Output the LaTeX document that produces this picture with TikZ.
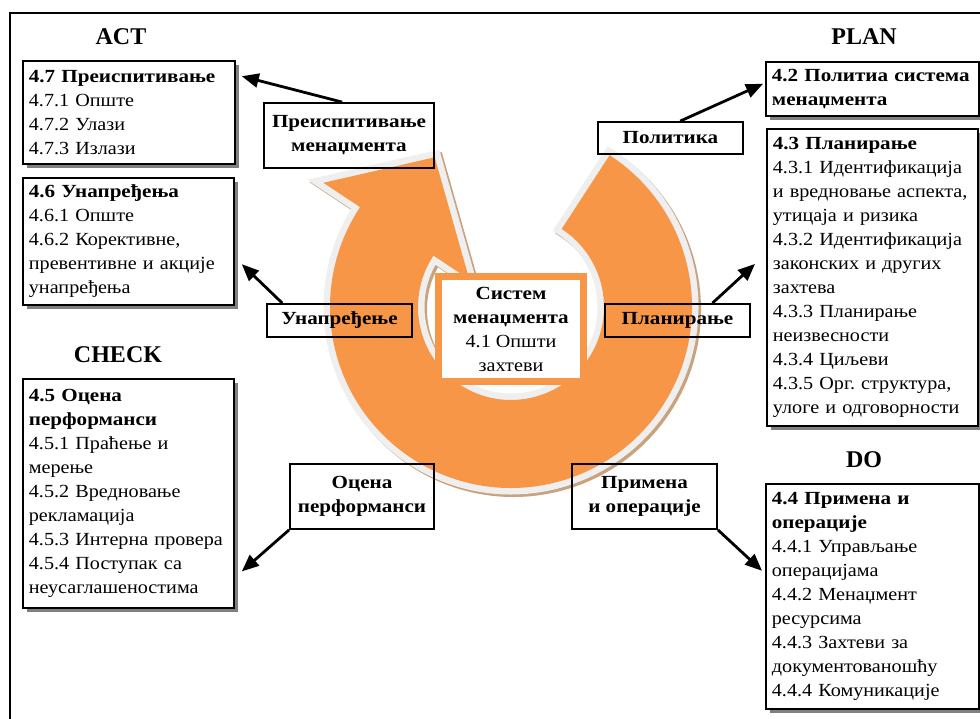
\documentclass[tikz,border=0pt]{standalone}
\usepackage{fontspec}
\setmainfont{Liberation Serif}[FakeStretch=1.09, BoldFeatures={FakeStretch=1.14}]
\newfontfamily\titlefont{Liberation Serif}
\usetikzlibrary{arrows.meta,calc,shadows}

\definecolor{ringorange}{HTML}{F79646}
\definecolor{ringrim}{HTML}{EFEFEF}
\definecolor{ringshade}{HTML}{C9A27E}
\definecolor{boxshade}{HTML}{808080}

% circular arrow: tail cut at 57 deg, runs clockwise, head at 146.5 deg
\newcommand\ringoutline[1]{%
  \path[#1] (57:181) arc[start angle=57,end angle=-213.5,radius=181]
    -- (146.5:225) -- (117:168) -- (146.5:50) -- (146.5:93)
    arc[start angle=146.5,end angle=417,radius=93] -- cycle;}

\begin{document}
\begin{tikzpicture}[x=1pt,y=1pt,
  bodytext/.style={font=\fontsize{18.5}{24}\selectfont},
  secbox/.style={draw, line width=1.8pt, fill=white, anchor=north west,
    inner xsep=6pt, inner ysep=0pt, align=left, bodytext,
    drop shadow={shadow xshift=4.5pt, shadow yshift=-4.5pt, fill=boxshade, opacity=1}},
  tagbox/.style={draw, line width=1.8pt, inner sep=0pt, align=center,
    font=\fontsize{18.5}{24}\selectfont\bfseries},
  phase/.style={font=\titlefont\fontsize{24}{28}\selectfont\bfseries},
  link/.style={line width=2.8pt, -{Triangle[length=17pt,width=14pt]}},
]
\useasboundingbox (0,0) rectangle (980,719);

% outer frame
\draw[line width=2.2pt] (10,-5) -- (10,706) -- (985,706);

% central circular arrow: shadow, light rim, orange body
\begin{scope}[shift={(511,412)}]
  \ringoutline{fill=ringshade, draw=ringshade, line width=13pt, line join=miter, shift={(2.5,-2.5)}}
  \ringoutline{draw=ringrim, line width=13pt, line join=miter}
  \ringoutline{fill=ringorange}
\end{scope}

% centre box
\node[draw=ringorange, line width=7pt, fill=white, minimum width=145pt,
  minimum height=105pt, inner sep=0pt, align=center, bodytext] (core) at (511,390)
  {\textbf{Систем}\\\textbf{менаџмента}\\4.1~Општи\\захтеви};

% phase titles
\node[phase] (act) at (121,682) {ACT};
\node[phase] (plan) at (864,682) {PLAN};
\node[phase] (check) at (118,364) {CHECK};
\node[phase] (do) at (864,259) {DO};

% clause boxes (lines use ~ so that they never break)
\node[secbox, text width=200pt, minimum height=103pt] (b47) at (22,659)
  {\textbf{4.7~Преиспитивање}\\4.7.1~Опште\\4.7.2~Улази\\4.7.3~Излази};
\node[secbox, text width=199pt, minimum height=127pt] (b46) at (22,542)
  {\textbf{4.6~Унапређења}\\4.6.1~Опште\\4.6.2~Корективне,\\превентивне~и~акције\\унапређења};
\node[secbox, text width=199pt, minimum height=229pt] (b45) at (22,341)
  {\textbf{4.5~Оцена}\\\textbf{перформанси}\\4.5.1~Праћење~и\\мерење\\4.5.2~Вредновање\\рекламација\\4.5.3~Интерна~провера\\4.5.4~Поступак~са\\неусаглашеностима};
\node[secbox, text width=201pt, minimum height=54pt] (b42) at (765,658)
  {\textbf{4.2~Политиа~система}\\\textbf{менаџмента}};
\node[secbox, text width=199pt, minimum height=297pt] (b43) at (766,591)
  {\textbf{4.3~Планирање}\\4.3.1~Идентификација\\и~вредновање~аспекта,\\утицаја~и~ризика\\4.3.2~Идентификација\\законских~и~других\\захтева\\4.3.3~Планирање\\неизвесности\\4.3.4~Циљеви\\4.3.5~Орг.~структура,\\улоге~и~одговорности};
\node[secbox, text width=201pt, minimum height=225pt] (b44) at (765,236)
  {\textbf{4.4~Примена~и}\\\textbf{операције}\\4.4.1~Управљање\\операцијама\\4.4.2~Менаџмент\\ресурсима\\4.4.3~Захтеви~за\\документованошћу\\4.4.4~Комуникације};

% step labels around the ring
\node[tagbox, minimum width=170pt, minimum height=65pt] (lPre) at (349,583.5) {Преиспитивање\\менаџмента};
\node[tagbox, minimum width=145pt, minimum height=32pt] (lPol) at (670.5,581) {Политика};
\node[tagbox, minimum width=145pt, minimum height=33pt] (lUna) at (339.5,398.5) {Унапређење};
\node[tagbox, minimum width=145pt, minimum height=33pt] (lPla) at (677.5,398.5) {Планирање};
\node[tagbox, minimum width=144pt, minimum height=65pt] (lOce) at (362,222.5) {Оцена\\перформанси};
\node[tagbox, minimum width=145pt, minimum height=65pt] (lPri) at (644.5,222.5) {Примена\\и~операције};

% connectors
\draw[link] ($(lPre.north west)!0.46!(lPre.north east)$) -- ($(b47.north east)!0.155!(b47.south east)+(6,0)$);
\draw[link] ($(lPol.north west)!0.566!(lPol.north east)$) -- ($(b42.north west)!0.41!(b42.south west)+(-2,0)$);
\draw[link] ($(lUna.north west)!0.11!(lUna.north east)$) -- ($(b46.north east)!0.677!(b46.south east)+(7,0)$);
\draw[link] ($(lPla.north west)!0.738!(lPla.north east)$) -- ($(b43.north west)!0.455!(b43.south west)+(-11,0)$);
\draw[link] (lOce.south west) -- ($(b45.north east)!0.838!(b45.south east)+(7,0)$);
\draw[link] (lPri.south east) -- ($(b44.north west)!0.387!(b44.south west)+(-3,0)$);
\end{tikzpicture}
\end{document}
